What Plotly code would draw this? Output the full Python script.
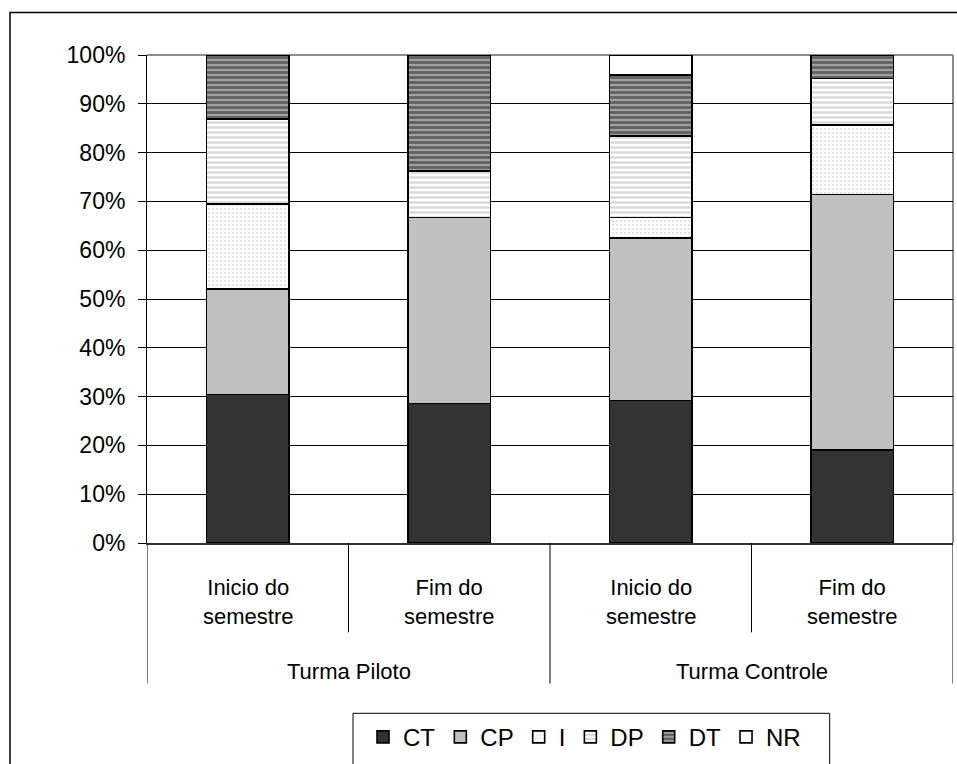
import plotly.graph_objects as go

# Categories: class group and moment of the survey
groups = ["Turma Piloto", "Turma Piloto", "Turma Controle", "Turma Controle"]
periods = ["Inicio do<br>semestre", "Fim do<br>semestre", "Inicio do<br>semestre", "Fim do<br>semestre"]
keys = ["TP-ini", "TP-fim", "TC-ini", "TC-fim"]

# Answer shares (%) per bar
CT = [30.4, 28.6, 29.2, 19.0]
CP = [21.7, 38.1, 33.3, 52.4]
I_ = [17.4, None, 4.2, 14.3]
DP = [17.4, 9.5, 16.7, 9.5]
DT = [13.1, 23.8, 12.5, 4.8]
NR = [None, None, 4.1, None]

# Y-axis ticks
y_ticks = list(range(0, 101, 10))
y_tick_text = [f"{v}%" for v in y_ticks]

series = [
    ("CT", CT, dict(color="#333333")),
    ("CP", CP, dict(color="#c0c0c0")),
    ("I", I_, dict(color="white", pattern=dict(shape=".", fgcolor="#b8b8b8", bgcolor="white", size=4, solidity=0.22))),
    ("DP", DP, dict(color="white", pattern=dict(shape="-", fgcolor="#b4b4b4", bgcolor="white", size=5, solidity=0.5))),
    ("DT", DT, dict(color="#a0a0a0", pattern=dict(shape="-", fgcolor="#1e1e1e", bgcolor="#a0a0a0", size=5, solidity=0.55))),
    ("NR", NR, dict(color="white")),
]

REGULAR = "Liberation Sans, Arial, sans-serif"

fig = go.Figure()
for name, vals, mk in series:
    fig.add_trace(go.Bar(
        x=keys, y=vals, name=name, width=0.41,
        marker=dict(**mk, line=dict(color="black", width=1.6)),
    ))

fig.update_layout(
    barmode="stack",
    width=957, height=764,
    margin=dict(l=147, r=4, t=55, b=216),
    paper_bgcolor="white", plot_bgcolor="white",
    font=dict(family=REGULAR, color="black"),
    showlegend=True,
    legend=dict(
        orientation="h", x=0.268, y=-0.352, xanchor="left", yanchor="top",
        font=dict(family=REGULAR, size=24, color="black"),
        bgcolor="rgba(0,0,0,0)", borderwidth=0, traceorder="normal",
    ),
    xaxis=dict(
        type="category", range=[-0.5, 3.5], showticklabels=False, ticks="",
        showgrid=False, showline=True, linecolor="#333333", linewidth=2,
        zeroline=False,
    ),
    yaxis=dict(
        range=[0, 100], tickmode="array", tickvals=y_ticks, ticktext=y_tick_text,
        ticks="outside", ticklen=8, tickcolor="black", tickwidth=1,
        showline=True, linecolor="black", linewidth=1,
        showgrid=True, gridcolor="black", gridwidth=1, zeroline=False,
        tickfont=dict(family=REGULAR, size=23, color="black"),
        ticklabelstandoff=8,
    ),
)

shapes = []
# Plot-area frame (top and right), kept behind the bars
shapes.append(dict(type="line", xref="paper", yref="paper", x0=0, x1=1, y0=1, y1=1,
                   line=dict(color="#8c8c8c", width=2), layer="between"))
shapes.append(dict(type="line", xref="paper", yref="paper", x0=1, x1=1, y0=0, y1=1,
                   line=dict(color="#8c8c8c", width=2), layer="between"))
# Category dividers below the axis: short ones inside a group, long ones between groups
for pos in [-0.5, 1.5, 3.5]:
    shapes.append(dict(type="line", xref="x", yref="paper", x0=pos, x1=pos, y0=0, y1=-0.288,
                       line=dict(color="black", width=1)))
for pos in [0.5, 2.5]:
    shapes.append(dict(type="line", xref="x", yref="paper", x0=pos, x1=pos, y0=0, y1=-0.183,
                       line=dict(color="black", width=1)))
# Outer chart frame
shapes.append(dict(type="rect", xref="paper", yref="paper", x0=-0.17, x1=1.05, y0=-0.6, y1=1.087,
                   line=dict(color="black", width=1.5), fillcolor="rgba(0,0,0,0)"))
# Legend frame
shapes.append(dict(type="rect", xref="paper", yref="paper", x0=0.2556, x1=0.847, y0=-0.6, y1=-0.349,
                   line=dict(color="black", width=1), fillcolor="rgba(0,0,0,0)"))
fig.update_layout(shapes=shapes)

annotations = []
for k, p in zip(keys, periods):
    annotations.append(dict(x=k, xref="x", y=-0.12, yref="paper", text=p, showarrow=False,
                            xanchor="center", yanchor="middle",
                            font=dict(family=REGULAR, size=22, color="black")))
for g in dict.fromkeys(groups):
    idx = [i for i, gg in enumerate(groups) if gg == g]
    center = sum(idx) / len(idx)
    annotations.append(dict(x=center, xref="x", y=-0.264, yref="paper", text=g, showarrow=False,
                            xanchor="center", yanchor="middle",
                            font=dict(family=REGULAR, size=22, color="black")))
fig.update_layout(annotations=annotations)

fig.write_html("out.html")
